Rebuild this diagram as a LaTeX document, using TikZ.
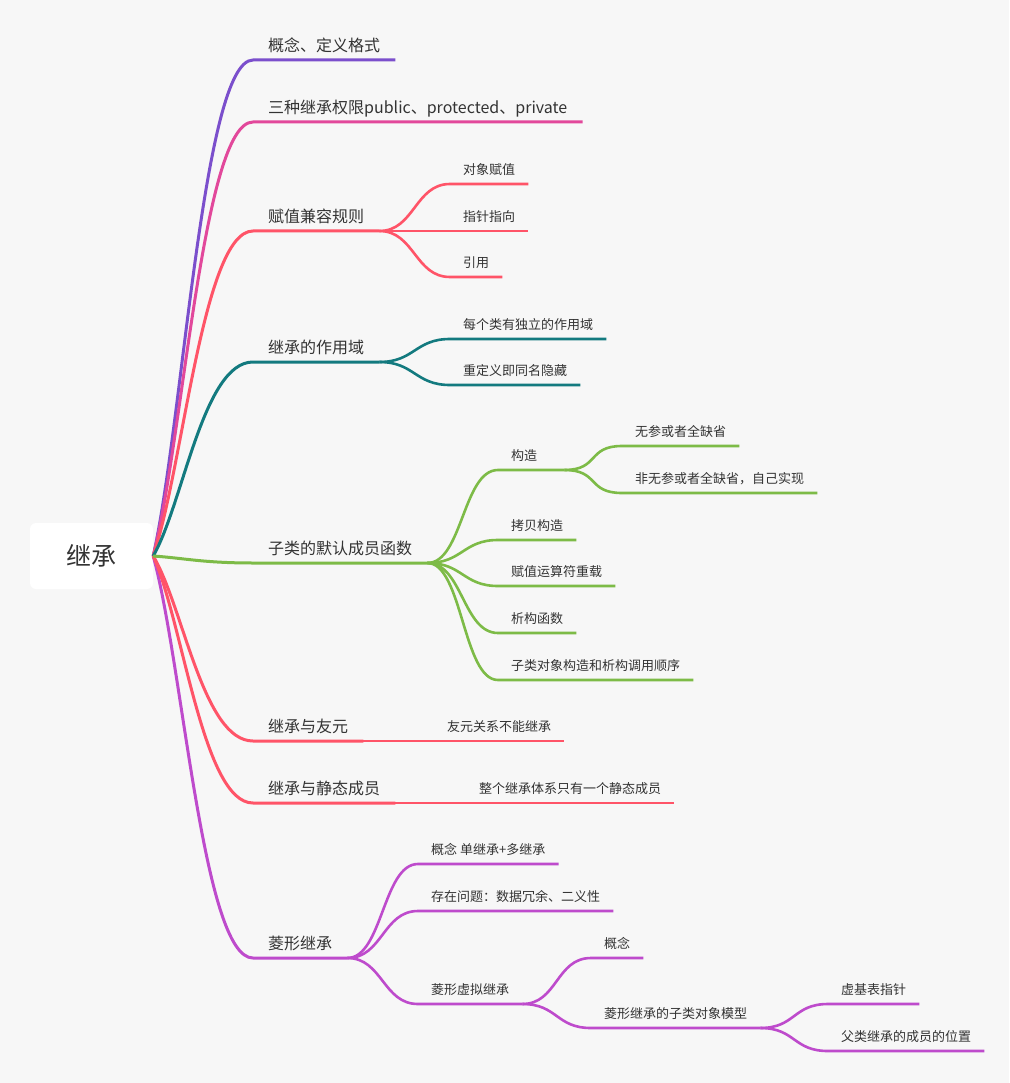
\documentclass[tikz,border=0pt]{standalone}
\usepackage{fontspec}
\newfontfamily\cjk{Noto Sans CJK SC}
\usepackage{tikz}

\definecolor{bg}{HTML}{F7F7F7}
\definecolor{ink}{HTML}{333333}
\definecolor{cpurple}{HTML}{7B4FCC}
\definecolor{cpink}{HTML}{E2489B}
\definecolor{cred}{HTML}{FF5468}
\definecolor{cteal}{HTML}{137A7F}
\definecolor{cgreen}{HTML}{7DBB47}
\definecolor{cmagenta}{HTML}{BE4BCC}

\begin{document}
\begin{tikzpicture}[x=1pt,y=-1pt,
	main/.style={line width=3pt},
	side/.style={line width=2.6pt},
	sub/.style={to path={.. controls +(35,0) and +(-35,0) .. (\tikztotarget)}}]
	\fill[bg] (0,0) rectangle (1009,1083);
	\useasboundingbox (0,0) rectangle (1009,1083);
	\node[fill=white,rounded corners=6pt,minimum width=123pt,minimum height=66pt,text=ink,font=\cjk\fontsize{25}{25}\selectfont] (R) at (91.5,556) {继承};
	% first level
	\begin{scope}[every node/.style={anchor=south west,inner xsep=15pt,inner ysep=0pt,text depth=8pt,text=ink,font=\cjk\fontsize{16}{16}\selectfont}]
	\node (A) at (253,60) {概念、定义格式};
	\node (B) at (253,122) {三种继承权限public、protected、private};
	\node (C) at (253,231) {赋值兼容规则};
	\node (D) at (253,362) {继承的作用域};
	\node (E) at (253,563) {子类的默认成员函数};
	\node (F) at (253,741) {继承与友元};
	\node (G) at (253,803) {继承与静态成员};
	\node (H) at (253,958) {菱形继承};
	\end{scope}
	% deeper levels
	\begin{scope}[every node/.style={anchor=south west,inner xsep=13pt,inner ysep=0pt,text depth=9pt,text=ink,font=\cjk\fontsize{13}{13}\selectfont}]
	\node (C1) at (450,184) {对象赋值};
	\node (C2) at (450,231) {指针指向};
	\node (C3) at (450,277) {引用};
	\node (D1) at (450,339) {每个类有独立的作用域};
	\node (D2) at (450,385) {重定义即同名隐藏};
	\node[text width=40pt] (E1) at (498,470) {构造};
	\node (E11) at (622,446) {无参或者全缺省};
	\node (E12) at (622,493) {非无参或者全缺省，自己实现};
	\node (E2) at (498,540) {拷贝构造};
	\node (E3) at (498,586) {赋值运算符重载};
	\node (E4) at (498,633) {析构函数};
	\node (E5) at (498,680) {子类对象构造和析构调用顺序};
	\node (F1) at (434,741) {友元关系不能继承};
	\node (G1) at (466,803) {整个继承体系只有一个静态成员};
	\node (H1) at (418,864) {概念 单继承+多继承};
	\node (H2) at (418,911) {存在问题：数据冗余、二义性};
	\node (H3) at (418,1004) {菱形虚拟继承};
	\node (H31) at (591,958) {概念};
	\node (H32) at (591,1028) {菱形继承的子类对象模型};
	\node (H321) at (828,1004) {虚基表指针};
	\node (H322) at (828,1051) {父类继承的成员的位置};
	\end{scope}
	% branches from the root
	\draw[main,cpurple] (R.east) .. controls +(30,-134) and +(-50,0) .. (A.south west) -- (A.south east);
	\draw[main,cpink] (R.east) .. controls +(30,-117) and +(-50,0) .. (B.south west) -- (B.south east);
	\draw[main,cred] (R.east) .. controls +(30,-88) and +(-50,0) .. (C.south west) -- (C.south east);
	\draw[main,cteal] (R.east) .. controls +(30,-52) and +(-50,0) .. (D.south west) -- (D.south east);
	\draw[main,cmagenta] (R.east) .. controls +(30,109) and +(-50,0) .. (H.south west) -- (H.south east);
	\draw[main,cred] (R.east) .. controls +(30,67) and +(-50,0) .. (G.south west) -- (G.south east);
	\draw[main,cred] (R.east) .. controls +(30,50) and +(-50,0) .. (F.south west) -- (F.south east);
	\draw[main,cgreen] (R.east) .. controls +(30,2) and +(-50,0) .. (E.south west) -- (E.south east);
	% sub branches
	\draw[side,cred] (C.south east) to[sub] (C1.south west) -- (C1.south east);
	\draw[side,cred] (C.south east) to[sub] (C2.south west) -- (C2.south east);
	\draw[side,cred] (C.south east) to[sub] (C3.south west) -- (C3.south east);
	\draw[side,cteal] (D.south east) to[sub] (D1.south west) -- (D1.south east);
	\draw[side,cteal] (D.south east) to[sub] (D2.south west) -- (D2.south east);
	\draw[side,cgreen] (E.south east) to[sub] (E1.south west) -- (E1.south east);
	\draw[side,cgreen] (E1.south east) to[sub] (E11.south west) -- (E11.south east);
	\draw[side,cgreen] (E1.south east) to[sub] (E12.south west) -- (E12.south east);
	\draw[side,cgreen] (E.south east) to[sub] (E2.south west) -- (E2.south east);
	\draw[side,cgreen] (E.south east) to[sub] (E3.south west) -- (E3.south east);
	\draw[side,cgreen] (E.south east) to[sub] (E4.south west) -- (E4.south east);
	\draw[side,cgreen] (E.south east) to[sub] (E5.south west) -- (E5.south east);
	\draw[side,cred] (F.south east) -- (F1.south west) -- (F1.south east);
	\draw[side,cred] (G.south east) -- (G1.south west) -- (G1.south east);
	\draw[side,cmagenta] (H.south east) to[sub] (H1.south west) -- (H1.south east);
	\draw[side,cmagenta] (H.south east) to[sub] (H2.south west) -- (H2.south east);
	\draw[side,cmagenta] (H.south east) to[sub] (H3.south west) -- (H3.south east);
	\draw[side,cmagenta] (H3.south east) to[sub] (H31.south west) -- (H31.south east);
	\draw[side,cmagenta] (H3.south east) to[sub] (H32.south west) -- (H32.south east);
	\draw[side,cmagenta] (H32.south east) to[sub] (H321.south west) -- (H321.south east);
	\draw[side,cmagenta] (H32.south east) to[sub] (H322.south west) -- (H322.south east);
\end{tikzpicture}
\end{document}
